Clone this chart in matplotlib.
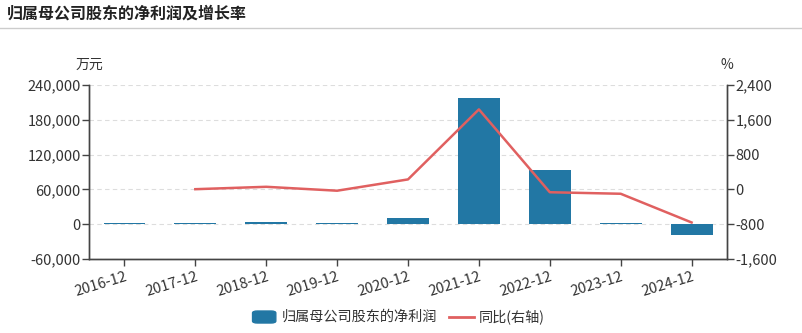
import numpy as np
import matplotlib
matplotlib.use("Agg")
from matplotlib import pyplot as plt
from matplotlib.ticker import FuncFormatter
from matplotlib.patches import FancyBboxPatch
from matplotlib.lines import Line2D

plt.rcParams['font.family'] = ['Noto Sans CJK SC', 'DejaVu Sans']

periods = ['2016-12', '2017-12', '2018-12', '2019-12', '2020-12',
           '2021-12', '2022-12', '2023-12', '2024-12']
net_profit = [1600, 1650, 4200, 2400, 10500, 216800, 93500, 1800, -18500]  # 万元
yoy = [np.nan, 5, 60, -30, 230, 1840, -65, -100, -760]  # %

BAR = '#2277a4'
LINE = '#e06060'
TXT = '#333333'
AX = '#444444'


def thousands(v, pos):
    return f'{v:,.0f}'


fig = plt.figure(figsize=(8.03, 3.33), dpi=100)
fig.text(0.008, 0.96, '归属母公司股东的净利润及增长率', fontsize=11.5,
         fontweight='bold', color='#222222', va='center', ha='left')
fig.add_artist(Line2D([0, 1], [0.915, 0.915], color='#cccccc', lw=1,
                      transform=fig.transFigure))

ax = fig.add_axes([0.1108, 0.2222, 0.7946, 0.5225])
x = np.arange(len(periods))
ax.bar(x, net_profit, width=0.59, color=BAR, zorder=2)
ax.set_xlim(-0.5, len(periods) - 0.5)
ax.set_ylim(-60000, 240000)
ax.set_yticks(np.arange(-60000, 240001, 60000))
ax.yaxis.set_major_formatter(FuncFormatter(thousands))
ax.grid(axis='y', color='#dddddd', ls=(0, (4, 3)), lw=0.8, zorder=0)
ax.set_axisbelow(True)

ax.set_xticks(x)
ax.set_xticklabels(periods, rotation=17, ha='right', rotation_mode='anchor')

ax2 = ax.twinx()
ax2.plot(x, yoy, color=LINE, lw=1.8, zorder=3)
ax2.set_ylim(-1600, 2400)
ax2.set_yticks(np.arange(-1600, 2401, 800))
ax2.yaxis.set_major_formatter(FuncFormatter(thousands))

for a in (ax, ax2):
    a.spines['top'].set_visible(False)
    for s in ('left', 'right', 'bottom'):
        a.spines[s].set_color(AX)
        a.spines[s].set_linewidth(1)
    a.tick_params(axis='both', colors=AX, labelcolor=TXT, labelsize=10.5,
                  length=5, width=1, pad=1, direction='out')
ax.tick_params(axis='x', pad=3)

fig.text(0.111, 0.805, '万元', fontsize=10, color=TXT, ha='center', va='center')
fig.text(0.905, 0.805, '%', fontsize=10, color=TXT, ha='center', va='center')

# legend drawn by hand so the bar swatch can have rounded corners
patch = FancyBboxPatch((0.3145, 0.030), 0.029, 0.036,
                       boxstyle='round,pad=0,rounding_size=0.006',
                       transform=fig.transFigure, color=BAR)
fig.add_artist(patch)
fig.text(0.351, 0.049, '归属母公司股东的净利润', fontsize=10.2, color=TXT,
         va='center', ha='left')
fig.add_artist(Line2D([0.559, 0.590], [0.049, 0.049], color=LINE, lw=2,
                      transform=fig.transFigure))
fig.text(0.596, 0.049, '同比(右轴)', fontsize=10.2, color=TXT,
         va='center', ha='left')

fig.savefig('out.png', dpi=100)
